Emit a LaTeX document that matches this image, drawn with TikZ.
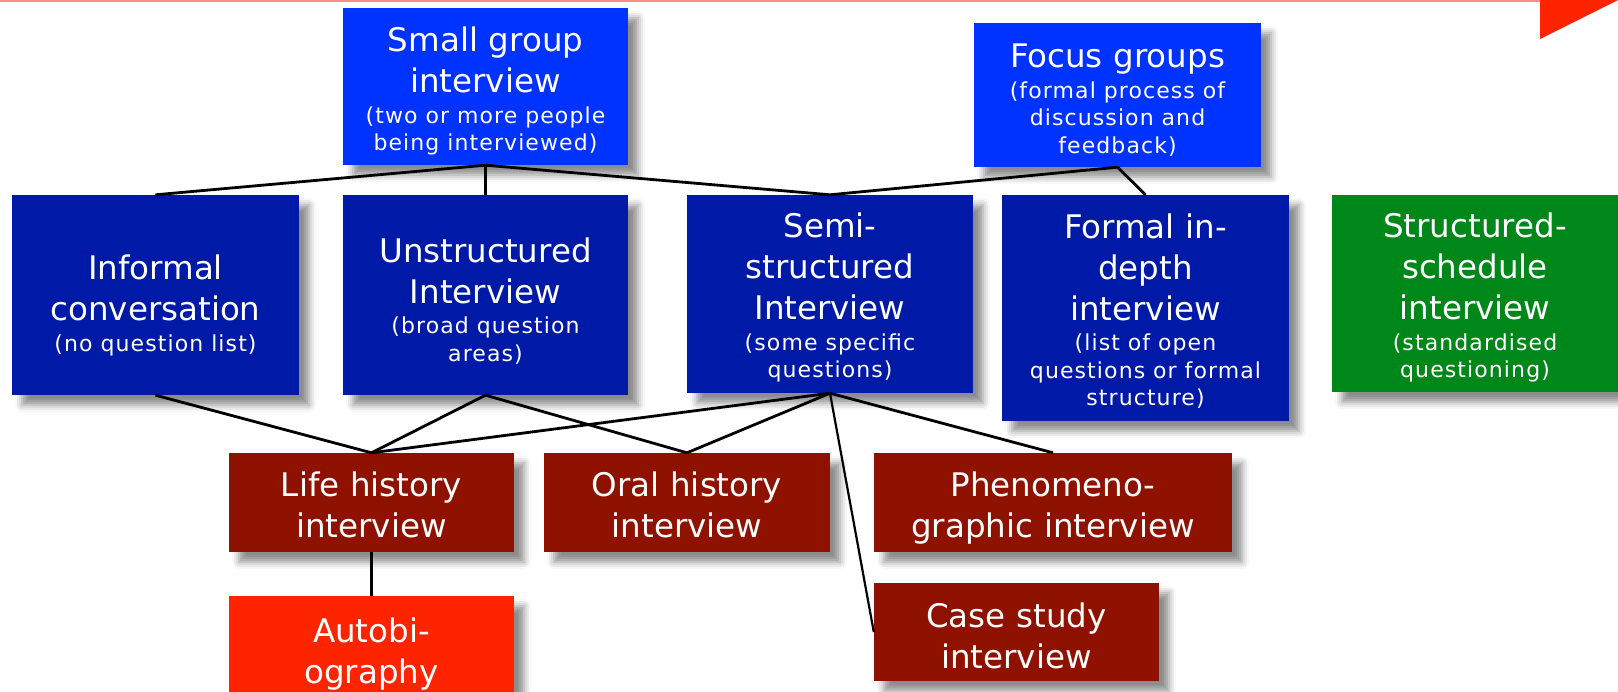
\documentclass[tikz,border=0pt]{standalone}
\usepackage{fontspec}
\setmainfont{DejaVu Sans}
\newfontfamily\notefont{DejaVu Sans}[LetterSpace=5]
\usetikzlibrary{shadows.blur}

\definecolor{groupblue}{HTML}{0033FF}
\definecolor{typeblue}{HTML}{001AA8}
\definecolor{schedgreen}{HTML}{00871A}
\definecolor{formred}{HTML}{8F1200}
\definecolor{brightred}{HTML}{FF2400}

% type sizes for the box titles and the bracketed notes
\newcommand{\titlesz}{\fontsize{32.5}{41}\selectfont\spaceskip=0.33em\xspaceskip=0.33em\relax}
\newcommand{\notesz}{\notefont\fontsize{22}{27.5}\selectfont\spaceskip=0.36em\xspaceskip=0.36em\relax}
% invisible strut on the first line; its extra height lowers the text block by #1
\newcommand{\lowerby}[1]{\rule{0pt}{\dimexpr 0.8em+2\dimexpr #1\relax\relax}}

% optional downward shift, title lines, bracketed note
\newcommand{\boxtext}[3][0pt]{{\titlesz\lowerby{#1}#2\par}\vspace{3pt}{\notesz #3\par}}
% optional downward shift, title lines only
\newcommand{\boxtitle}[2][0pt]{{\titlesz\lowerby{#1}#2\par}}

\tikzset{
  box/.style n args={3}{
    fill=#1, text=white, align=center, inner sep=0pt,
    minimum width=#2, text width=#2, minimum height=#3,
    blur shadow={shadow xshift=10pt, shadow yshift=-10pt,
                 shadow blur radius=7pt, shadow opacity=45}
  },
  link/.style={draw=black, line width=2.8pt},
  thinlink/.style={draw=black, line width=2.2pt}
}

\begin{document}
\begin{tikzpicture}[x=1pt, y=-1pt]
\useasboundingbox (0,0) rectangle (1618,692);

% red rule along the top edge and corner wedge
\draw[red!45, line width=2.5pt] (0,1) -- (1540,1);
\fill[brightred] (1540,0) -- (1618,0) -- (1540,39) -- cycle;

% group formats
\node[box={groupblue}{285pt}{157pt}] (sg) at (485.5,86.5)
  {\boxtext[4pt]{Small group\\interview}{(two or more people\\being interviewed)}};
\node[box={groupblue}{287pt}{144pt}] (fg) at (1117.5,95)
  {\boxtext[4pt]{Focus groups}{(formal process of\\discussion and\\feedback)}};

% interview types
\node[box={typeblue}{287pt}{200pt}] (inf) at (155.5,295)
  {\boxtext[10pt]{Informal\\conversation}{(no question list)}};
\node[box={typeblue}{285pt}{200pt}] (uns) at (485.5,295)
  {\boxtext[5pt]{Unstructured\\Interview}{(broad question\\areas)}};
\node[box={typeblue}{286pt}{198pt}] (semi) at (830,294)
  {\boxtext[3pt]{Semi-\\structured\\Interview}{(some specific\\questions)}};
\node[box={typeblue}{287pt}{226pt}] (fid) at (1145.5,308)
  {\boxtext[2.5pt]{Formal in-\\depth\\interview}{(list of open\\questions or formal\\structure)}};
\node[box={schedgreen}{286pt}{197pt}] (ss) at (1475,293.5)
  {\boxtext[3.5pt]{Structured-\\schedule\\interview}{(standardised\\questioning)}};

% interview forms
\node[box={formred}{285pt}{99pt}] (life) at (371.5,502.5)
  {\boxtitle[2pt]{Life history\\interview}};
\node[box={formred}{286pt}{99pt}] (oral) at (687,502.5)
  {\boxtitle[2pt]{Oral history\\interview}};
\node[box={formred}{358pt}{99pt}] (phen) at (1053,502.5)
  {\boxtitle[5pt]{Phenomeno-\\graphic interview}};
\node[box={formred}{285pt}{98pt}] (case) at (1016.5,632)
  {\boxtitle[3pt]{Case study\\interview}};
\node[box={brightred}{285pt}{108pt}] (auto) at (371.5,650)
  {\boxtitle[3pt]{Autobi-\\ography}};

% connections
\draw[link] (sg.south) -- (inf.north);
\draw[thinlink] (sg.south) -- (uns.north);
\draw[link] (sg.south) -- (semi.north);
\draw[link] (fg.south) -- (semi.north);
\draw[link] (fg.south) -- (fid.north);

\draw[link] (inf.south) -- (life.north);
\draw[link] (uns.south) -- (life.north);
\draw[link] (uns.south) -- (oral.north);
\draw[link] (semi.south) -- (life.north);
\draw[link] (semi.south) -- (oral.north);
\draw[link] (semi.south) -- (phen.north);
\draw[thinlink] (semi.south) -- (case.west);
\draw[thinlink] (life.south) -- (auto.north);
\end{tikzpicture}
\end{document}
